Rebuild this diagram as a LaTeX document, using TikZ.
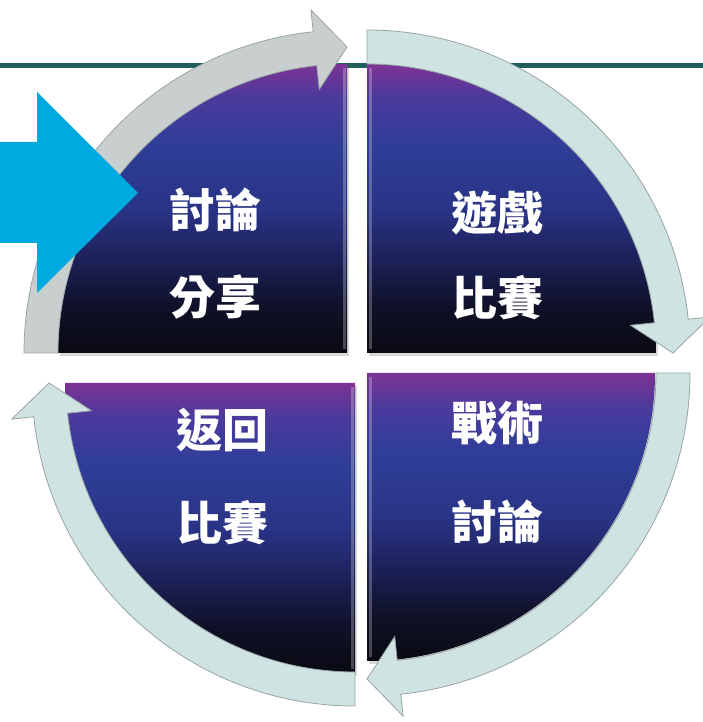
\documentclass[tikz,border=0pt]{standalone}
\usepackage{fontspec}
\newfontfamily\cjk{Noto Sans CJK TC}
\usetikzlibrary{calc,shadows}
\definecolor{qd0}{HTML}{0A0A12}
\definecolor{qd1}{HTML}{0F1128}
\definecolor{qd2}{HTML}{1C2058}
\definecolor{qd3}{HTML}{2A3486}
\definecolor{qd4}{HTML}{2E3E98}
\definecolor{qd5}{HTML}{4A3A9C}
\definecolor{qd6}{HTML}{7C3494}
\definecolor{teal}{HTML}{1F5E5C}
\definecolor{bandgrey}{HTML}{C9CECE}
\definecolor{bandcyan}{HTML}{CFE3E3}
\definecolor{bandedge}{HTML}{98A4A4}
\definecolor{bluearrow}{HTML}{00A9E0}
\pgfdeclareverticalshading{quadshade}{100bp}{color(0bp)=(qd0); color(25bp)=(qd0); color(33bp)=(qd1); color(41bp)=(qd2); color(50bp)=(qd3); color(61bp)=(qd4); color(69bp)=(qd5); color(75bp)=(qd6); color(100bp)=(qd6)}
\newcommand{\bandarrow}[4]{%
  \path[#4] ($(#1)+(#2:289)$) arc[start angle=#2, end angle=#3+6, radius=289]
    -- ($(#1)+(#3+6:265)$) -- ($(#1)+(#3:306)$) -- ($(#1)+(#3+6:345)$)
    -- ($(#1)+(#3+6:323)$) arc[start angle=#3+6, end angle=#2, radius=323] -- cycle;}
\tikzset{
  quad/.style={shading=quadshade, drop shadow={opacity=0.3, shadow xshift=2pt, shadow yshift=-3pt}},
  bevel/.style={draw=white, draw opacity=0.25, line width=3pt},
  bandA/.style={fill=bandgrey, draw=bandedge, line width=0.8pt},
  bandB/.style={fill=bandcyan, draw=bandedge, line width=0.8pt},
  lbl/.style={text=white, font=\cjk\bfseries\fontsize{46}{50}\selectfont, inner sep=0pt}
}
\begin{document}
\begin{tikzpicture}[x=1pt,y=1pt]
\useasboundingbox (0,0) rectangle (703,722);
% top line
\fill[teal] (0,654) rectangle (703,659);
% centres
\coordinate (cTL) at (347,369);
\coordinate (cTR) at (367,369);
\coordinate (cBR) at (367,349);
\coordinate (cBL) at (355,339);
% quadrants
\path[quad] (cTL) -- ++(180:289) arc[start angle=180, end angle=90, radius=289] -- cycle;
\path[quad] (cTR) -- ++(90:289) arc[start angle=90, end angle=0, radius=289] -- cycle;
\path[quad] (cBR) -- ++(0:288) arc[start angle=0, end angle=-90, radius=288] -- cycle;
\path[quad] (cBL) -- ++(-90:290) arc[start angle=-90, end angle=-180, radius=290] -- cycle;
% bevel highlights on straight edges
\draw[bevel] ($(cTL)+(-3,4)$) -- ($(cTL)+(-3,285)$);
\draw[bevel] ($(cTR)+(3,4)$) -- ($(cTR)+(3,285)$);
\draw[bevel] ($(cBR)+(3,-4)$) -- ($(cBR)+(3,-284)$);
\draw[bevel] ($(cBL)+(-3,-4)$) -- ($(cBL)+(-3,-286)$);
% circular arrows
\bandarrow{cTL}{180}{90}{bandA}
\bandarrow{cTR}{90}{0}{bandB}
\bandarrow{cBR}{0}{-90}{bandB}
\bandarrow{cBL}{-90}{-180}{bandB}
% blue arrow
\fill[bluearrow] (0,580) -- (37,580) -- (37,630) -- (138,529) -- (37,429) -- (37,479) -- (0,479) -- cycle;
% labels
\node[lbl] (tl1) at (215,512) {討論};
\node[lbl] (tl2) at (215,425) {分享};
\node[lbl] (tr1) at (497,509) {遊戲};
\node[lbl] (tr2) at (497,424) {比賽};
\node[lbl] (bl1) at (222,292) {返回};
\node[lbl] (bl2) at (222,199) {比賽};
\node[lbl] (br1) at (497,299) {戰術};
\node[lbl] (br2) at (497,200) {討論};
\end{tikzpicture}
\end{document}
